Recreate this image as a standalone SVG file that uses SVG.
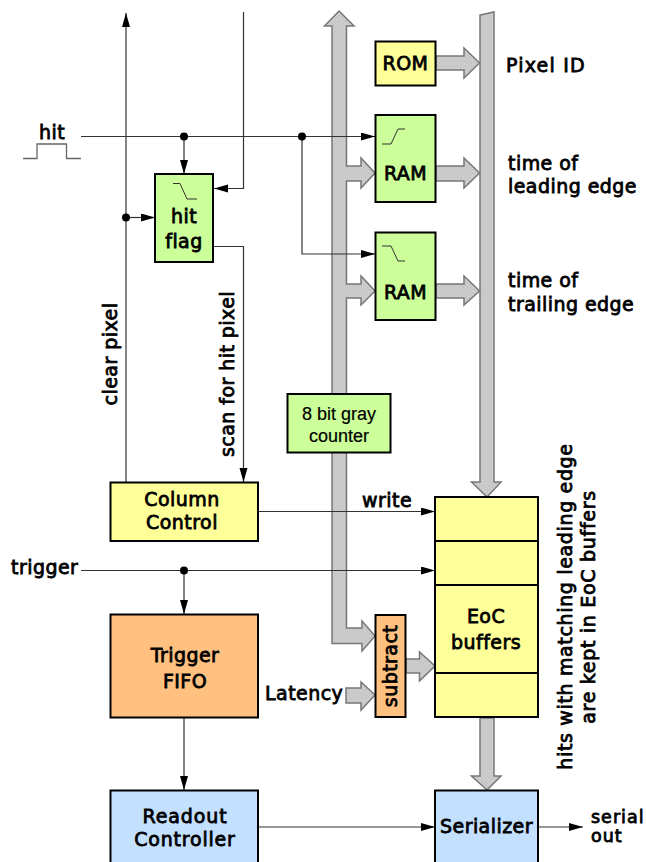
<svg xmlns="http://www.w3.org/2000/svg" width="646" height="862" viewBox="0 0 646 862">
<style>
text{font-family:"DejaVu Sans","Liberation Sans",sans-serif;font-size:19px;fill:#000;stroke:#000;stroke-width:.8px;letter-spacing:.45px;text-anchor:middle}
.l{text-anchor:start}
.t{font-family:"Liberation Sans",sans-serif;font-size:18px;stroke-width:.2px;letter-spacing:0}
.s{font-size:17.500px;letter-spacing:1px}
.box{stroke:#000;stroke-width:2}
.g{fill:#CCFF99}.y{fill:#FFFF99}.o{fill:#FFC080}.b{fill:#C4E0FF}
.w{fill:none;stroke:#333;stroke-width:1.2}
.sym{fill:none;stroke:#333;stroke-width:1}
.bus{fill:url(#st);stroke:#777;stroke-width:1.5}
.dot{fill:#000}
</style>
<defs>
<pattern id="st" width="4" height="4" patternUnits="userSpaceOnUse"><rect width="4" height="4" fill="#CCCCCC"/><rect x="1" y="1" width="1" height="1" fill="#B4B4B4"/><rect x="3" y="3" width="1" height="1" fill="#BEBEBE"/></pattern>
<marker id="a" markerUnits="userSpaceOnUse" markerWidth="16" markerHeight="10" refX="14" refY="4" orient="auto"><path d="M0 0L14 4L0 8Z" fill="#000"/></marker>
</defs>
<g id="connectors">
<path class="bus" d="M339 11L354 26H346.500V166H361V158L375 173L361 188V181H346.500V284H361V276L375 291L361 305V298H346.500V628H362V621L375 636L362 651V643.500H332V26H324.500Z"/>
<path class="bus" d="M480 15L494 12V482H501L487 497L471.500 482H480Z"/>
<path class="bus" d="M436 56H464V48L479.500 63L464 78V70H436Z"/>
<path class="bus" d="M436 166H464V158L479.500 173L464 188V181H436Z"/>
<path class="bus" d="M436 284H464V276L479.500 291L464 305V298H436Z"/>
<path class="bus" d="M406 659H419.500V652L435 666L419.500 681V673H406Z"/>
<path class="bus" d="M346 688H361V682L375 695L361 710V703H346Z"/>
<path class="bus" d="M480 718H494V776H501L487 790L471.500 776H480Z"/>
<path class="w" marker-end="url(#a)" d="M126 482V13"/>
<path class="w" marker-end="url(#a)" d="M243.500 12V188.500H214"/>
<path class="w" d="M81 136.500H302"/>
<path class="w" marker-end="url(#a)" d="M302 136.500H375"/>
<path class="w" marker-end="url(#a)" d="M184 136.500V174"/>
<path class="w" marker-end="url(#a)" d="M302 136.500V254H375"/>
<path class="w" marker-end="url(#a)" d="M126 217.500H155"/>
<path class="w" marker-end="url(#a)" d="M213 246.500H243.500V482"/>
<path class="w" marker-end="url(#a)" d="M258 511.500H435"/>
<path class="w" marker-end="url(#a)" d="M81 570.500H435"/>
<path class="w" marker-end="url(#a)" d="M184 570.500V614"/>
<path class="w" marker-end="url(#a)" d="M184 717V790"/>
<path class="w" marker-end="url(#a)" d="M258 827H435"/>
<path class="w" marker-end="url(#a)" d="M538 827H583"/>
<path d="M23 158.500H37V144H66.500V158.500H81" fill="none" stroke="#666" stroke-width="1.300"/>
<circle class="dot" cx="184" cy="136.500" r="4"/>
<circle class="dot" cx="302" cy="136.500" r="4"/>
<circle class="dot" cx="126" cy="217.500" r="4"/>
<circle class="dot" cx="184" cy="570.500" r="4"/>
</g>
<g id="hit-flag"><rect class="box g" x="155" y="174" width="58" height="88"/><path class="sym" d="M173 183.500H180L187 199H197"/><text x="184" y="223">hit</text><text x="184" y="248">flag</text></g>
<g id="rom"><rect class="box y" x="375.500" y="41.500" width="60" height="44"/><text x="405.500" y="70">ROM</text></g>
<g id="ram1"><rect class="box g" x="375.500" y="115" width="60" height="87"/><path class="sym" d="M382 144H391L398 129H405"/><text x="405.500" y="180">RAM</text></g>
<g id="ram2"><rect class="box g" x="375.500" y="232.500" width="60" height="87.500"/><path class="sym" d="M382 246H391L398 261H405"/><text x="405.500" y="299">RAM</text></g>
<g id="counter"><rect class="box g" x="287.500" y="394" width="103" height="58.500"/><text class="t" x="339" y="420">8 bit gray</text><text class="t" x="339" y="442">counter</text></g>
<g id="column-control"><rect class="box y" x="110.500" y="482.500" width="147.500" height="58.500"/><text x="182" y="506">Column</text><text x="182" y="529">Control</text></g>
<g id="trigger-fifo"><rect class="box o" x="110.500" y="614.500" width="147.500" height="103"/><text x="185" y="662">Trigger</text><text x="185" y="688">FIFO</text></g>
<g id="subtract"><rect class="box o" x="375.500" y="615" width="30" height="102"/><text transform="translate(397 666) rotate(-90)">subtract</text></g>
<g id="eoc"><rect class="box y" x="435" y="497" width="103" height="220"/><path d="M435 541H538M435 585H538M435 673H538" stroke="#000" stroke-width="2"/><text x="486" y="623">EoC</text><text x="486" y="649">buffers</text></g>
<g id="readout"><rect class="box b" x="110.500" y="790.500" width="147.500" height="73"/><text x="185" y="823" style="letter-spacing:.9px">Readout</text><text x="185" y="846" style="letter-spacing:.8px">Controller</text></g>
<g id="serializer"><rect class="box b" x="435" y="790.500" width="103" height="73"/><text x="486.500" y="833">Serializer</text></g>
<g id="labels">
<text x="52" y="139">hit</text>
<text class="l" x="506" y="72" style="letter-spacing:1.200px">Pixel ID</text>
<text class="l" x="508" y="170">time of</text>
<text class="l" x="508" y="193">leading edge</text>
<text class="l" x="508" y="287">time of</text>
<text class="l" x="508" y="311">trailing edge</text>
<text transform="translate(117 354) rotate(-90)">clear pixel</text>
<text transform="translate(234 374) rotate(-90)">scan for hit pixel</text>
<text class="l" x="362" y="507">write</text>
<text class="l" x="11" y="574">trigger</text>
<text class="l" x="265" y="700">Latency</text>
<text transform="translate(572 606.500) rotate(-90)" style="letter-spacing:.65px">hits with matching leading edge</text>
<text transform="translate(595 607) rotate(-90)" style="letter-spacing:.7px">are kept in EoC buffers</text>
<text class="l s" x="591" y="823">serial</text>
<text class="l s" x="591" y="842">out</text>
</g>
</svg>
